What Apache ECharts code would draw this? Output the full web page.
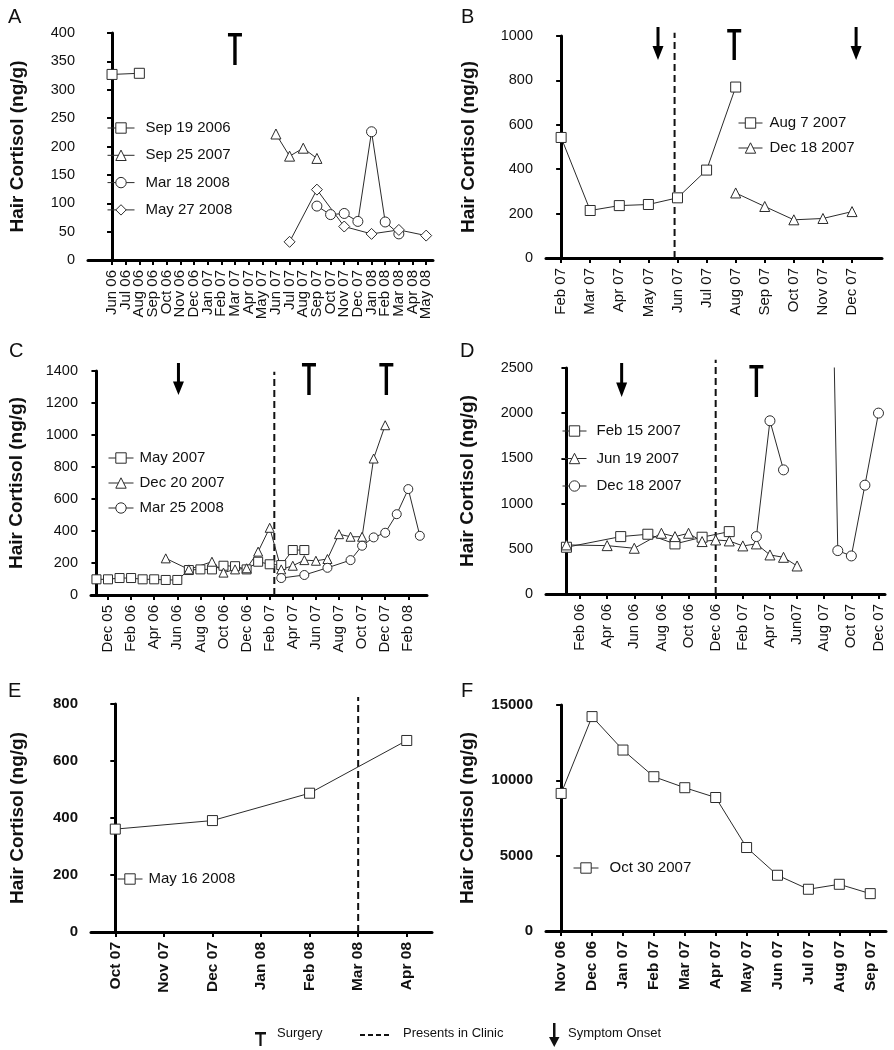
<!DOCTYPE html>
<html><head><meta charset="utf-8">
<script src="https://cdn.jsdelivr.net/npm/echarts@6/dist/echarts.min.js"></script>
<style>html,body{margin:0;padding:0;background:#fff}#c{width:894px;height:1050px}</style>
</head><body><div id="c"></div>
<script>
// ---------- Panel A ----------
const monthsA = ['Jun 06','Jul 06','Aug 06','Sep 06','Oct 06','Nov 06','Dec 06','Jan 07','Feb 07','Mar 07','Apr 07','May 07','Jun 07','Jul 07','Aug 07','Sep 07','Oct 07','Nov 07','Dec 07','Jan 08','Feb 08','Mar 08','Apr 08','May 08'];
const aSep19_2006 = [327,null,329,null,null,null,null,null,null,null,null,null,null,null,null,null,null,null,null,null,null,null,null,null];
const aSep25_2007 = [null,null,null,null,null,null,null,null,null,null,null,null,222,183,197,179,null,null,null,null,null,null,null,null];
const aMar18_2008 = [null,null,null,null,null,null,null,null,null,null,null,null,null,null,null,95,80,82,68,226,67,46,null,null];
const aMay27_2008 = [null,null,null,null,null,null,null,null,null,null,null,null,null,32,null,124,null,59,null,46,null,53,null,43];
const surgeryA = [9];

// ---------- Panel B ----------
const monthsB = ['Feb 07','Mar 07','Apr 07','May 07','Jun 07','Jul 07','Aug 07','Sep 07','Oct 07','Nov 07','Dec 07'];
const bAug7_2007 = [543,214,236,241,271,396,770,null,null,null,null];
const bDec18_2007 = [null,null,null,null,null,null,293,232,172,178,209];
const surgeryB = [5.95];
const onsetB = [3.33, 10.14];
const clinicB = [3.9];

// ---------- Panel C ----------
const monthsC = ['Nov 05','Dec 05','Jan 06','Feb 06','Mar 06','Apr 06','May 06','Jun 06','Jul 06','Aug 06','Sep 06','Oct 06','Nov 06','Dec 06','Jan 07','Feb 07','Mar 07','Apr 07','May 07','Jun 07','Jul 07','Aug 07','Sep 07','Oct 07','Nov 07','Dec 07','Jan 08','Feb 08','Mar 08'];
const labelIdxC = [1,3,5,7,9,11,13,15,17,19,21,23,25,27];
const cMay2007 = [98,98,106,106,98,98,94,94,156,160,160,183,180,160,208,192,187,281,281,null,null,null,null,null,null,null,null,null,null];
const cDec20_2007 = [null,null,null,null,null,null,229,null,160,null,208,140,160,167,271,420,160,183,218,214,225,380,364,364,853,1061,null,null,null];
const cMar25_2008 = [null,null,null,null,null,null,null,null,null,null,null,null,null,null,null,null,106,null,125,null,170,null,218,308,360,389,505,662,370];
const surgeryC = [18.4, 25.1];
const onsetC = [7.1];
const clinicC = [15.4];

// ---------- Panel D ----------
const monthsD = ['Jan 06','Feb 06','Mar 06','Apr 06','May 06','Jun 06','Jul 06','Aug 06','Sep 06','Oct 06','Nov 06','Dec 06','Jan 07','Feb 07','Mar 07','Apr 07','May 07','Jun07','Jul 07','Aug 07','Sep 07','Oct 07','Nov 07','Dec 07'];
const labelIdxD = [1,3,5,7,9,11,13,15,17,19,21,23];
const dFeb15_2007 = [517,null,null,null,635,null,661,null,554,null,628,null,690,null,null,null,null,null,null,null,null,null,null,null];
const dJun19_2007 = [543,null,null,535,null,506,null,672,635,672,580,598,587,532,554,432,406,310,null,null,null,null,null,null];
const dDec18_2007 = [null,null,null,null,null,null,null,null,null,null,null,null,null,null,635,1916,1373,null,null,8400,480,421,1204,2001];
const surgeryD = [14];
const onsetD = [4.07];
const clinicD = [11];

// ---------- Panel E ----------
const monthsE = ['Oct 07','Nov 07','Dec 07','Jan 08','Feb 08','Mar 08','Apr 08'];
const eMay16_2008 = [361,null,391,null,487,null,672];
const clinicE = [5];

// ---------- Panel F ----------
const monthsF = ['Nov 06','Dec 06','Jan 07','Feb 07','Mar 07','Apr 07','May 07','Jun 07','Jul 07','Aug 07','Sep 07'];
const fOct30_2007 = [9130,14230,12010,10240,9510,8860,5540,3700,2770,3100,2480];

// ---------- helpers ----------
const FONT = '"Liberation Sans", Arial, Helvetica, sans-serif';
const INK = '#111';
const LINE = '#2b2b2b';
const T_PATH = 'path://M0,0 L14,0 L14,3.5 L8.7,3.5 L8.7,32 L5.3,32 L5.3,3.5 L0,3.5 Z';
const ARROW_PATH = 'path://M4,0 L7,0 L7,19 L11,19 L5.5,33 L0,19 L4,19 Z';
const range = n => Array.from({length:n}, (_, i) => i);
const pts = arr => arr.map((v, i) => [i, v]).filter(p => p[1] !== null);
const ptsGap = arr => arr.map((v, i) => [i, v]);

const grids = [
  {left:88, top:33, width:345, height:227},
  {left:546, top:36, width:336, height:222},
  {left:91, top:371, width:336, height:224},
  {left:546, top:368, width:339, height:226},
  {left:91, top:704, width:341, height:228},
  {left:546, top:705, width:340, height:226}
].map(g => Object.assign({outerBoundsMode:'none', containLabel:false}, g));

// dense axes (panel A) get empty sentinel labels at both ends so no real label is dropped
function xAxisDef(idx, min, max, ticks, names, bold, fs, dense) {
  const vals = dense ? [min].concat(ticks, [max]) : ticks;
  return {
    type:'value', gridIndex:idx, min:min, max:max,
    splitLine:{show:false},
    axisLine:{show:true, onZero:false, lineStyle:{color:'#000', width:3}},
    axisTick:{show:true, customValues:vals, length:5, lineStyle:{color:'#000', width:2}},
    axisLabel:{show:true, customValues:vals, rotate:90, margin:10, color:INK,
      showMinLabel: dense ? false : true, showMaxLabel: dense ? false : true, hideOverlap:false,
      fontFamily:FONT, fontSize:fs, fontWeight: bold ? 'bold' : 'normal',
      formatter: v => (Math.abs(v - Math.round(v)) < 1e-6 && names[Math.round(v)]) || ''}
  };
}
function yAxisDef(idx, max, interval, gap, bold) {
  return {
    type:'value', gridIndex:idx, min:0, max:max, interval:interval,
    splitLine:{show:false},
    axisLine:{show:true, lineStyle:{color:'#000', width:3}},
    axisTick:{show:true, length:5, lineStyle:{color:'#000', width:2}},
    axisLabel:{color:INK, fontFamily:FONT, fontSize:bold ? 15 : 14.5, fontWeight: bold ? 'bold' : 'normal', margin:13,
      showMinLabel:true, showMaxLabel:true, hideOverlap:false, formatter: v => String(v)},
    name:'Hair Cortisol (ng/g)', nameLocation:'middle', nameRotate:90, nameGap:gap, nameMoveOverlap:false,
    nameTextStyle:{color:INK, fontFamily:FONT, fontSize:19, fontWeight:'bold'}
  };
}

const xAxes = [
  xAxisDef(0, -1.76, 23.5, range(24), monthsA, false, 15, true),
  xAxisDef(1, -0.52, 11.03, range(11), monthsB, false, 15, false),
  xAxisDef(2, -0.472, 28.62, labelIdxC, monthsC, false, 15, false),
  xAxisDef(3, -1.506, 23.48, labelIdxD, monthsD, false, 15, false),
  xAxisDef(4, -0.5, 6.52, range(7), monthsE, true, 15.5, false),
  xAxisDef(5, -0.49, 10.51, range(11), monthsF, true, 15.5, false)
];
const yAxes = [
  yAxisDef(0, 400, 50, 61, false),
  yAxisDef(1, 1000, 200, 68, false),
  yAxisDef(2, 1400, 200, 65, false),
  yAxisDef(3, 2500, 500, 69, false),
  yAxisDef(4, 800, 200, 64, true),
  yAxisDef(5, 15000, 5000, 69, true)
];

function lineSeries(name, idx, arr, symbol, opts) {
  return Object.assign({
    type:'line', name:name, xAxisIndex:idx, yAxisIndex:idx,
    data: pts(arr), symbol:symbol, symbolSize:10, showAllSymbol:true,
    connectNulls:true, clip:true, animation:false, z:3,
    lineStyle:{color:LINE, width:1, opacity:1},
    itemStyle:{color:'#fff', borderColor:LINE, borderWidth:1, opacity:1},
    emphasis:{disabled:true}
  }, opts || {});
}
function eventSeries(idx, xs, yTop, path, size, offsetY) {
  return {
    type:'scatter', xAxisIndex:idx, yAxisIndex:idx, silent:true, clip:false, animation:false,
    data: xs.map(x => [x, yTop]), symbol:path, symbolSize:size, symbolOffset:[0, offsetY],
    itemStyle:{color:'#000', borderWidth:0, opacity:1}, emphasis:{disabled:true}, z:5
  };
}
function clinicSeries(idx, xs, yLow, yHigh) {
  return xs.map(x => ({
    type:'line', xAxisIndex:idx, yAxisIndex:idx, silent:true, animation:false, clip:false,
    data:[[x, yLow], [x, yHigh]], symbol:'none', z:2,
    lineStyle:{color:'#111', width:2, type:[7,4], opacity:1},
    emphasis:{disabled:true}
  }));
}

const series = [
  lineSeries('Sep 19 2006', 0, aSep19_2006, 'rect'),
  lineSeries('Sep 25 2007', 0, aSep25_2007, 'triangle'),
  lineSeries('Mar 18 2008', 0, aMar18_2008, 'circle'),
  lineSeries('May 27 2008', 0, aMay27_2008, 'diamond', {symbolSize:11}),
  eventSeries(0, surgeryA, 400, T_PATH, [14, 32], 16),

  lineSeries('Aug 7 2007', 1, bAug7_2007, 'rect'),
  lineSeries('Dec 18 2007', 1, bDec18_2007, 'triangle'),
  ...clinicSeries(1, clinicB, 0, 1015),
  eventSeries(1, surgeryB, 1000, T_PATH, [14, 31], 8.5),
  eventSeries(1, onsetB, 1000, ARROW_PATH, [11, 33], 7.5),

  lineSeries('May 2007', 2, cMay2007, 'rect', {symbolSize:9}),
  lineSeries('Dec 20 2007', 2, cDec20_2007, 'triangle', {symbolSize:9}),
  lineSeries('Mar 25 2008', 2, cMar25_2008, 'circle', {symbolSize:9}),
  ...clinicSeries(2, clinicC, 0, 1395),
  eventSeries(2, surgeryC, 1400, T_PATH, [14, 32], 8),
  eventSeries(2, onsetC, 1400, ARROW_PATH, [11, 32], 8),

  lineSeries('Feb 15 2007', 3, dFeb15_2007, 'rect'),
  lineSeries('Jun 19 2007', 3, dJun19_2007, 'triangle'),
  lineSeries('Dec 18 2007 ', 3, dDec18_2007, 'circle', {data: ptsGap(dDec18_2007), connectNulls:false}),
  ...clinicSeries(3, clinicD, 0, 2590),
  eventSeries(3, surgeryD, 2500, T_PATH, [14, 32], 13),
  eventSeries(3, onsetD, 2500, ARROW_PATH, [11, 34], 12),

  lineSeries('May 16 2008', 4, eMay16_2008, 'rect'),
  ...clinicSeries(4, clinicE, 0, 825),

  lineSeries('Oct 30 2007', 5, fOct30_2007, 'rect')
];

function legendDef(names, left, top, gap, iw, pad) {
  return {
    data:names, orient:'vertical', left:left, top:top, itemGap:gap, padding:0,
    itemWidth:iw, itemHeight:13, selectedMode:false,
    itemStyle:{borderWidth:1, borderColor:LINE, color:'#fff'},
    lineStyle:{width:1, color:LINE},
    textStyle:{color:INK, fontFamily:FONT, fontSize:15, padding:[0,0,0,pad]}
  };
}
const legends = [
  legendDef(['Sep 19 2006','Sep 25 2007','Mar 18 2008','May 27 2008'], 107, 120.5, 12.3, 27, 6),
  legendDef(['Aug 7 2007','Dec 18 2007'], 738, 115.5, 10, 24, 2),
  legendDef(['May 2007','Dec 20 2007','Mar 25 2008'], 108, 450.5, 10, 25, 1),
  legendDef(['Feb 15 2007','Jun 19 2007','Dec 18 2007 '], 562, 423.5, 12.5, 24, 5),
  legendDef(['May 16 2008'], 117, 871.5, 10, 25, 1),
  legendDef(['Oct 30 2007'], 573, 860.5, 10, 25, 6)
];

const letter = (t, x, y) => ({type:'text', left:x, top:y - 10,
  style:{text:t, fill:INK, font:'20px ' + FONT}});
const note = (t, x) => ({type:'text', left:x, top:1027,
  style:{text:t, fill:INK, font:'13px ' + FONT}});
const graphics = [
  letter('A', 8, 17), letter('B', 461, 17), letter('C', 9, 351),
  letter('D', 460, 351), letter('E', 8, 691), letter('F', 461, 691),
  {type:'polygon', shape:{points:[[255,1032],[266,1032],[266,1034.5],[261.6,1034.5],[261.6,1046],[259.4,1046],[259.4,1034.5],[255,1034.5]]}, style:{fill:'#111'}},
  note('Surgery', 277),
  {type:'line', shape:{x1:360, y1:1035, x2:391, y2:1035}, style:{stroke:'#111', lineWidth:2, lineDash:[5,3]}},
  note('Presents in Clinic', 403),
  {type:'polygon', shape:{points:[[553,1023],[555.5,1023],[555.5,1037],[559.5,1037],[554.25,1047],[549,1037],[553,1037]]}, style:{fill:'#111'}},
  note('Symptom Onset', 568)
];

const chart = echarts.init(document.getElementById('c'), null, {renderer:'canvas', width:894, height:1050});
chart.setOption({
  backgroundColor:'#fff', animation:false,
  textStyle:{fontFamily:FONT},
  grid:grids, xAxis:xAxes, yAxis:yAxes, legend:legends, series:series, graphic:graphics
});
</script>
</body></html>
